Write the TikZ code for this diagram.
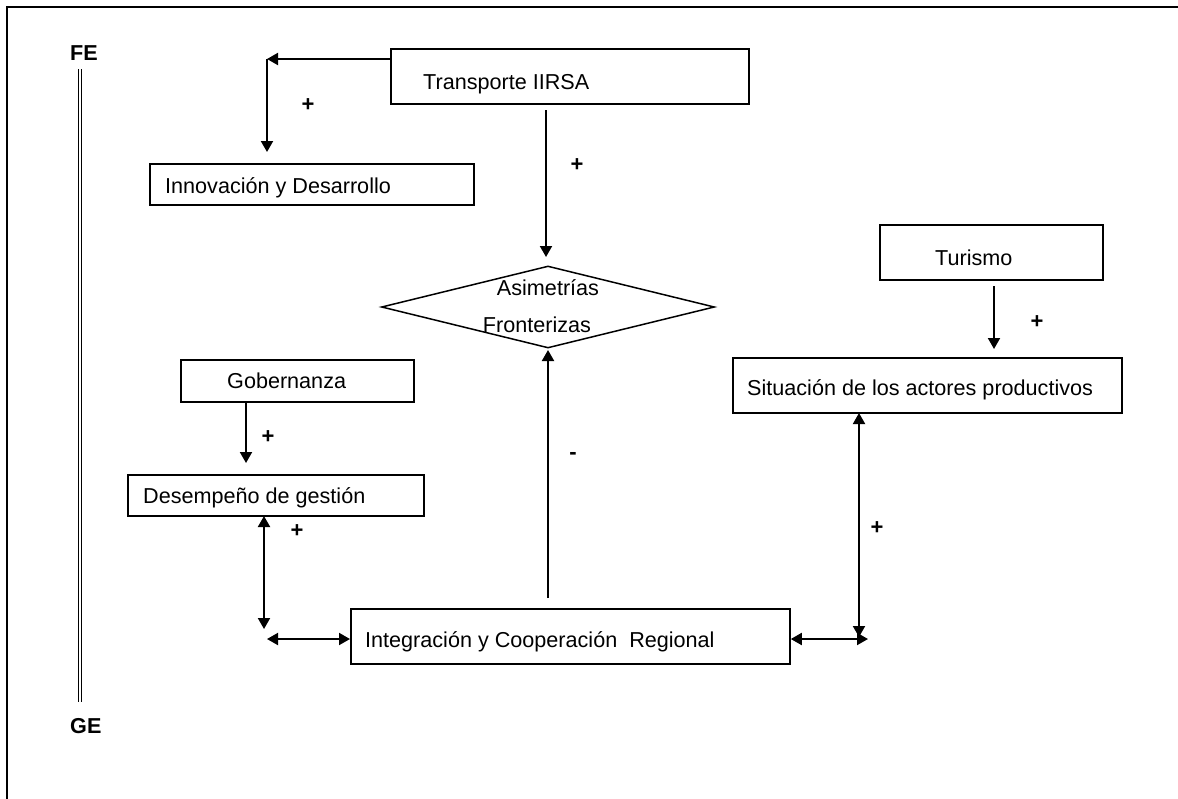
\documentclass[tikz,border=0pt]{standalone}
\usepackage{fontspec}
\setmainfont{Liberation Sans}
\usetikzlibrary{arrows.meta,shapes.geometric}
\begin{document}
\begin{tikzpicture}[x=1pt,y=-1pt,
  conn/.style={line width=1.9pt},
  >={Triangle[length=11pt,width=12pt]},
  box/.style={draw, line width=1.8pt, rectangle, inner sep=0pt, anchor=north west},
  lbl/.style={font=\fontsize{21.6}{26}\selectfont, inner sep=0pt, anchor=base west},
  clbl/.style={font=\fontsize{21.6}{26}\selectfont, inner sep=0pt, anchor=base},
  sign/.style={font=\fontsize{22}{26}\selectfont\bfseries, inner sep=0pt},
  axis/.style={font=\fontsize{21.6}{26}\selectfont\bfseries, inner sep=0pt, anchor=base west}]
\useasboundingbox (0,0) rectangle (1178,798);
\clip (0,0) rectangle (1178,798);
% frame
\draw[line width=1.8pt] (7,810) -- (7,7) -- (1190,7);
% axis
\node[axis] (fe) at (70,60) {FE};
\node[axis] (ge) at (70,733) {GE};
\draw[double, double distance=1.6pt, line width=1.3pt] (fe.south -| 80,0) ++(0,9) coordinate (axtop) -- (80,702) coordinate (axbot);
% boxes
\node[box, minimum width=358pt, minimum height=55pt] (tr) at (390,48) {};
\node[lbl] (trt) at (423,89) {Transporte IIRSA};
\node[box, minimum width=324pt, minimum height=41pt] (in) at (149,163) {};
\node[lbl] (int) at (165,193) {Innovación y Desarrollo};
\node[draw, line width=1.5pt, diamond, minimum width=333pt, minimum height=82pt, inner sep=0pt] (as) at (548,307) {};
\node[clbl] (ast1) at (548,295) {Asimetrías};
\node[clbl] (ast2) at (537,332) {Fronterizas};
\node[box, minimum width=223pt, minimum height=55pt] (tu) at (879,224) {};
\node[lbl] (tut) at (935,265) {Turismo};
\node[box, minimum width=389pt, minimum height=55pt] (si) at (732,357) {};
\node[lbl] (sit) at (747,395) {Situación de los actores productivos};
\node[box, minimum width=233pt, minimum height=42pt] (go) at (180,359) {};
\node[lbl] (got) at (227,388) {Gobernanza};
\node[box, minimum width=296pt, minimum height=41pt] (de) at (127,474) {};
\node[lbl] (det) at (143,503) {Desempeño de gestión};
\node[box, minimum width=439pt, minimum height=55pt] (ic) at (350,608) {};
\node[lbl] (ict) at (365,647) {Integración y Cooperación\ \ Regional};
% coordinates
\coordinate (c1) at (267,59);
\coordinate (c2) at (267,152);
\coordinate (d1) at (546,110);
\coordinate (d2) at (546,257);
\coordinate (u1) at (548,598);
\coordinate (u2) at (548,350);
\coordinate (g1) at (246,401);
\coordinate (g2) at (246,463);
\coordinate (v1) at (264,516);
\coordinate (v2) at (264,629);
\coordinate (hl) at (267,639);
\coordinate (hr) at (868,639);
\coordinate (s1) at (859,413);
\coordinate (s2) at (859,637);
\coordinate (t1) at (994,286);
\coordinate (t2) at (994,349);
% connectors
\draw[conn,->] (tr.west |- c1) -- (c1);
\draw[conn,->] (c1) -- (c2);
\draw[conn,->] (d1) -- (d2);
\draw[conn,->] (u1) -- (u2);
\draw[conn,->] (g1) -- (g2);
\draw[conn,<->] (v1) -- (v2);
\draw[conn,<->] (hl) -- (ic.west |- hl);
\draw[conn,<->] (ic.east |- hr) -- (hr);
\draw[conn,<->] (s1) -- (s2);
\draw[conn,->] (t1) -- (t2);
% signs
\node[sign] (p1) at (308,105) {+};
\node[sign] (p2) at (577,165) {+};
\node[sign] (p3) at (1037,322) {+};
\node[sign] (p4) at (268,437) {+};
\node[sign] (p5) at (297,531) {+};
\node[sign] (p6) at (877,528) {+};
\node[sign] (m1) at (573,456) {-};
\end{tikzpicture}
\end{document}
